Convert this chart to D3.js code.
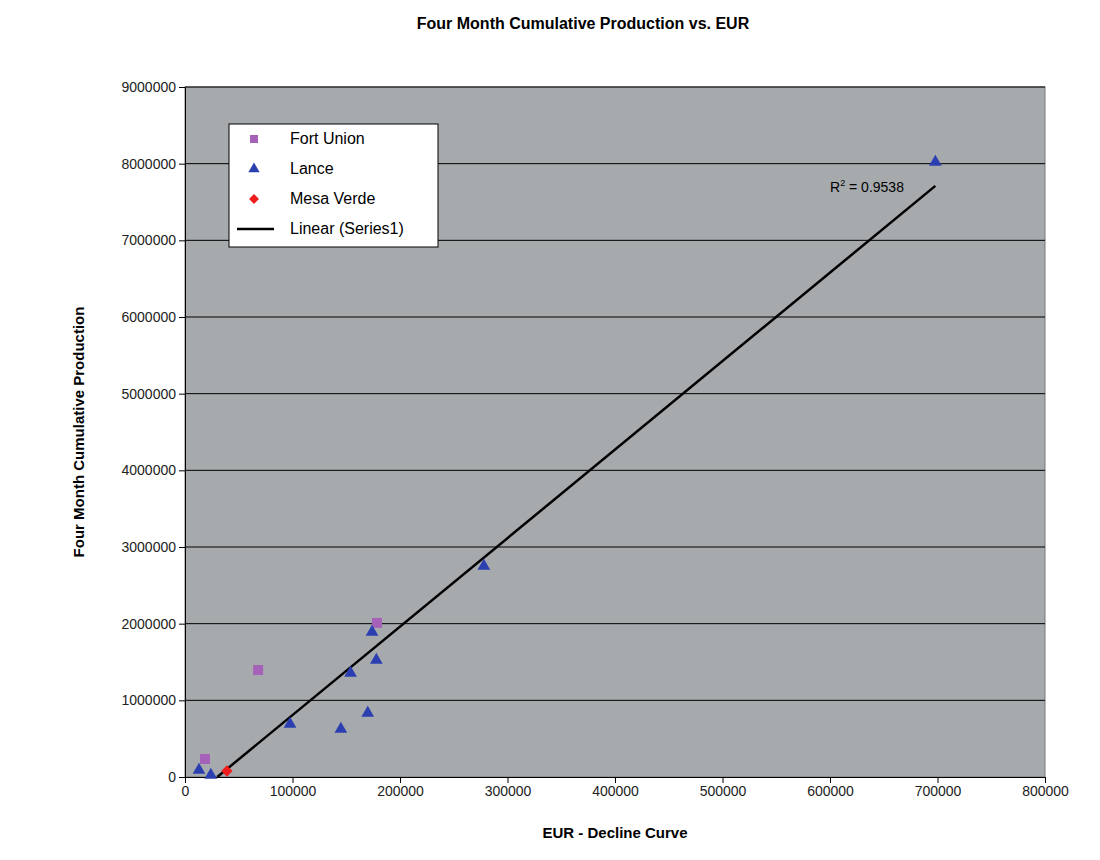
<!DOCTYPE html>
<html><head><meta charset="utf-8">
<script src="https://cdn.jsdelivr.net/npm/d3@7/dist/d3.min.js"></script>
<style>body{margin:0;background:#fff}svg{font-family:Arial,"Liberation Sans",sans-serif}</style>
</head><body><div id="chart"></div>
<script>
var fortUnion = [[68000, 1395000], [18600, 235000], [178600, 2010000]];
var lance = [[13000, 91000], [24000, 26000], [97700, 690000], [145000, 626000], [154000, 1356000],
  [170000, 834000], [174000, 1890000], [178000, 1525000], [278000, 2750000], [698000, 8020000]];
var mesaVerde = [[39000, 78000]];
var trend = [[30000, 0], [698000, 7710000]];
var xTicks = [0, 100000, 200000, 300000, 400000, 500000, 600000, 700000, 800000];
var yTicks = [0, 1000000, 2000000, 3000000, 4000000, 5000000, 6000000, 7000000, 8000000, 9000000];

var width = 1100, height = 860;
var svg = d3.select("#chart").append("svg").attr("width", width).attr("height", height);
var x = d3.scaleLinear().domain([0, 800000]).range([185, 1045]);
var y = d3.scaleLinear().domain([0, 9000000]).range([777, 87]);

svg.append("rect").attr("x", 185).attr("y", 87).attr("width", 860).attr("height", 690)
  .attr("fill", "#a6aaad").attr("stroke", "#777");

svg.append("g").selectAll("line").data(yTicks.slice(1)).enter().append("line")
  .attr("x1", 185).attr("x2", 1045).attr("y1", y).attr("y2", y).attr("stroke", "#000");

svg.append("g").attr("transform", "translate(0,777)")
  .call(d3.axisBottom(x).tickValues(xTicks).tickFormat(d3.format("d")).tickSizeOuter(0))
  .call(g => g.selectAll("text").attr("font-size", 14).attr("fill", "#222"));
svg.append("g").attr("transform", "translate(185,0)")
  .call(d3.axisLeft(y).tickValues(yTicks).tickFormat(d3.format("d")).tickSizeOuter(0))
  .call(g => g.selectAll("text").attr("font-size", 14).attr("fill", "#222"));

svg.append("path").datum(trend).attr("fill", "none").attr("stroke", "#000").attr("stroke-width", 2.5)
  .attr("d", d3.line().x(d => x(d[0])).y(d => y(d[1])));

svg.append("g").selectAll("rect").data(fortUnion).enter().append("rect")
  .attr("x", d => x(d[0]) - 5).attr("y", d => y(d[1]) - 5).attr("width", 10).attr("height", 10)
  .attr("fill", "#a562b8");
var tri = d3.symbol().type(d3.symbolTriangle).size(70);
svg.append("g").selectAll("path").data(lance).enter().append("path")
  .attr("d", tri).attr("transform", d => "translate(" + x(d[0]) + "," + y(d[1]) + ")").attr("fill", "#2b3fb0");
svg.append("g").selectAll("rect").data(mesaVerde).enter().append("rect")
  .attr("x", -4).attr("y", -4).attr("width", 8).attr("height", 8)
  .attr("transform", d => "translate(" + x(d[0]) + "," + y(d[1]) + ") rotate(45)").attr("fill", "#ee1c1c");

var r2 = svg.append("text").attr("x", 830).attr("y", 192).attr("font-size", 14);
r2.append("tspan").text("R");
r2.append("tspan").attr("dy", -6).attr("font-size", 9).text("2");
r2.append("tspan").attr("dy", 6).text(" = 0.9538");

// legend
var lg = svg.append("g").attr("transform", "translate(229,124)");
lg.append("rect").attr("width", 209).attr("height", 123).attr("fill", "#fff").attr("stroke", "#000");
var items = ["Fort Union", "Lance", "Mesa Verde", "Linear (Series1)"];
items.forEach(function(t, i) {
  var cy = 15 + i * 30;
  if (i == 0) lg.append("rect").attr("x", 21).attr("y", cy - 4).attr("width", 8).attr("height", 8).attr("fill", "#a562b8");
  if (i == 1) lg.append("path").attr("d", d3.symbol().type(d3.symbolTriangle).size(55)).attr("transform", "translate(25," + cy + ")").attr("fill", "#2b3fb0");
  if (i == 2) lg.append("rect").attr("x", -3.5).attr("y", -3.5).attr("width", 7).attr("height", 7).attr("transform", "translate(25," + cy + ") rotate(45)").attr("fill", "#ee1c1c");
  if (i == 3) lg.append("line").attr("x1", 8).attr("x2", 45).attr("y1", cy).attr("y2", cy).attr("stroke", "#000").attr("stroke-width", 2.5);
  lg.append("text").attr("x", 61).attr("y", cy + 5).attr("font-size", 16).text(t);
});

svg.append("text").attr("x", 583).attr("y", 29).attr("text-anchor", "middle")
  .attr("font-size", 16).attr("font-weight", "bold").text("Four Month Cumulative Production vs. EUR");
svg.append("text").attr("x", 615).attr("y", 838).attr("text-anchor", "middle")
  .attr("font-size", 15).attr("font-weight", "bold").text("EUR - Decline Curve");
svg.append("text").attr("transform", "translate(84,432) rotate(-90)").attr("text-anchor", "middle")
  .attr("font-size", 15).attr("font-weight", "bold").text("Four Month Cumulative Production");
</script></body></html>
